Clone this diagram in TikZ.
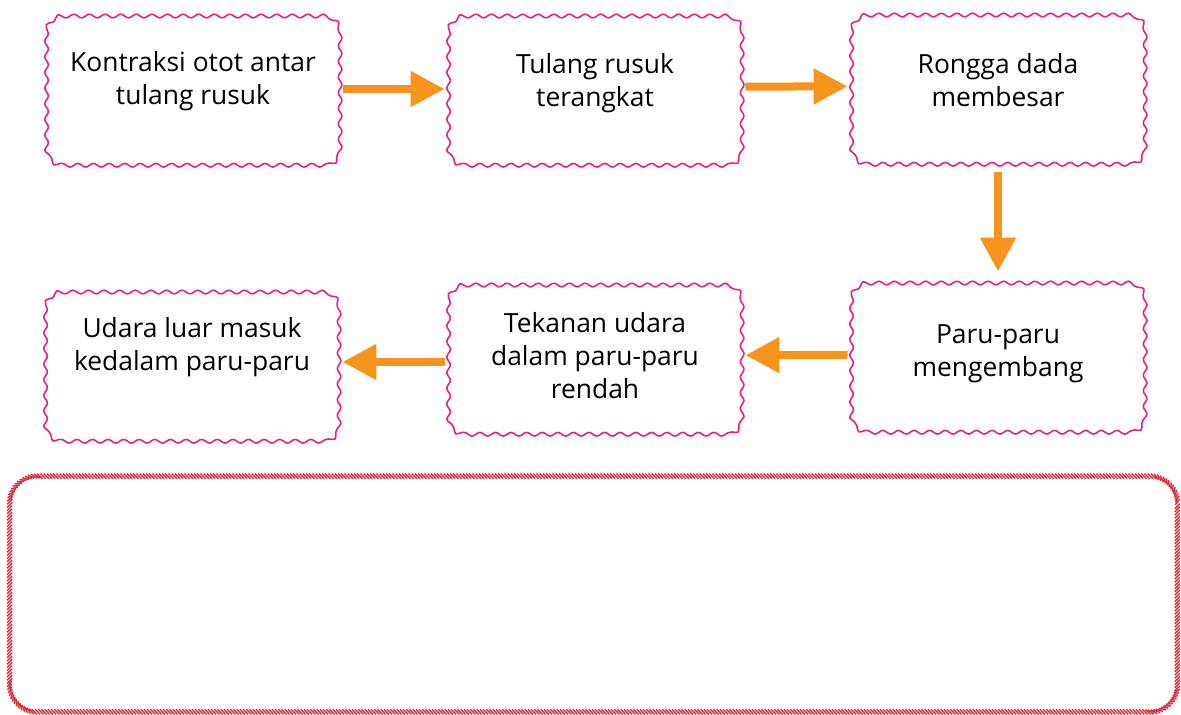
\documentclass[tikz,border=0pt]{standalone}
\usepackage{fontspec}
\setmainfont{Open Sans}
\usetikzlibrary{arrows.meta,decorations.pathmorphing,decorations.pathreplacing}
\definecolor{pinkline}{RGB}{232,30,140}
\definecolor{oranye}{RGB}{247,148,30}
\definecolor{hatchred}{RGB}{222,45,55}
\begin{document}
\begin{tikzpicture}[x=0.5pt,y=-0.5pt,
	kotak/.style={minimum width=146pt, minimum height=74pt, inner sep=0pt},
	teks/.style={align=center, font=\fontsize{13.2}{16.5}\selectfont},
	gelombang/.style={draw=pinkline, line width=0.8pt, decorate,
		decoration={snake, segment length=7.8pt, amplitude=0.9pt}},
	panah/.style={draw=oranye, line width=4pt, -{Triangle[length=17pt,width=17pt]},
		shorten <=2pt, shorten >=2pt},
	jawab/.style={minimum width=586pt, minimum height=120pt, inner sep=0pt},
	arsir/.style={draw=hatchred, line width=0.7pt, decorate,
		decoration={border, segment length=1.6pt, amplitude=3.6pt, angle=-45}}]
	\useasboundingbox (0,0) rectangle (1181,715);
	% baris atas
	\node[kotak, label={[teks, yshift=3pt]center:Kontraksi otot antar\\tulang rusuk}] (kontraksi) at (193,87) {};
	\node[kotak, label={[teks, yshift=2pt]center:Tulang rusuk\\terangkat}] (tulang) at (595,87) {};
	\node[kotak, label={[teks, yshift=3pt]center:Rongga dada\\membesar}] (rongga) at (998,86) {};
	% baris bawah
	\node[kotak, label={[teks]center:Paru-paru\\mengembang}] (paru) at (998,354) {};
	\node[kotak, label={[teks]center:Tekanan udara\\dalam paru-paru\\rendah}] (tekanan) at (595,356) {};
	\node[kotak, label={[teks, yshift=8pt]center:Udara luar masuk\\kedalam paru-paru}] (udara) at (192,363) {};
	% garis tepi bergelombang
	\foreach \k in {kontraksi,tulang,rongga,paru,tekanan,udara}
		\draw[gelombang] {[rounded corners=8pt] (\k.north west) rectangle (\k.south east)};
	% panah
	\draw[panah] (kontraksi.east) ++(0,-1pt) coordinate (k1) -- (k1 -| tulang.west);
	\draw[panah] (tulang) -- (rongga);
	\draw[panah, shorten <=6pt, shorten >=4pt] (rongga) -- (paru);
	\draw[panah] (paru) -- (tekanan);
	\draw[panah] (tekanan.west) ++(0,-3pt) coordinate (t1) -- (t1 -| udara.east);
	% kotak jawaban
	\node[jawab] (jawaban) at (593.5,594) {};
	\draw[arsir] {[rounded corners=15pt] (jawaban.north east) rectangle (jawaban.south west)};
\end{tikzpicture}
\end{document}
